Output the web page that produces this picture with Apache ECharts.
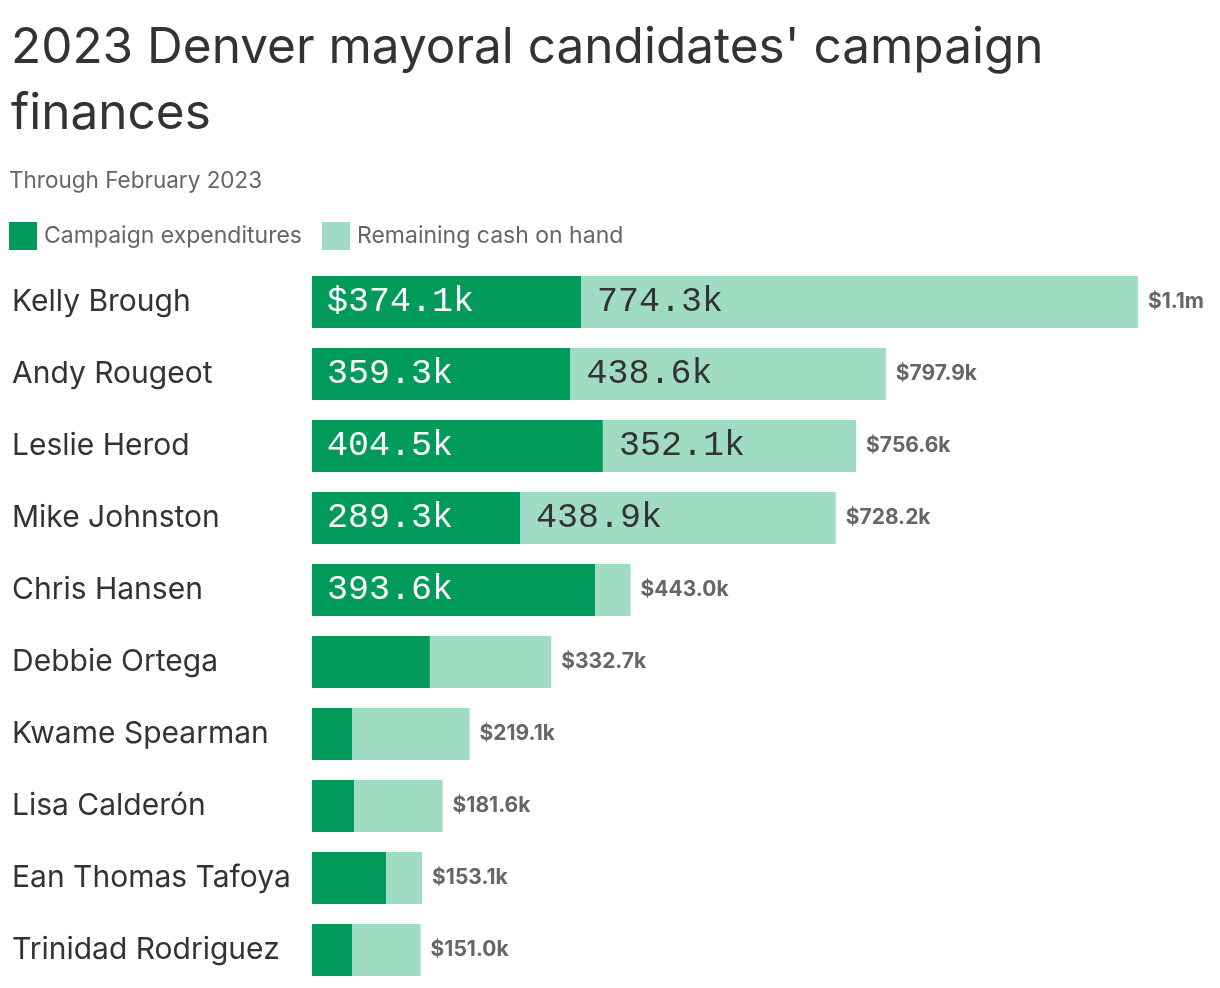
<!DOCTYPE html>
<html><head><meta charset="utf-8">
<script src="https://cdn.jsdelivr.net/npm/echarts@6/dist/echarts.min.js"></script>
<style>html,body{margin:0;padding:0;background:#fff}#c{width:1220px;height:988px}</style>
</head><body><div id="c"></div>
<script>
const candidates = ["Kelly Brough","Andy Rougeot","Leslie Herod","Mike Johnston","Chris Hansen","Debbie Ortega","Kwame Spearman","Lisa Calderón","Ean Thomas Tafoya","Trinidad Rodriguez"];
const expenditures = [374.1, 359.3, 404.5, 289.3, 393.6, 164.0, 55.6, 58.4, 102.9, 55.6];
const cashOnHand = [774.3, 438.6, 352.1, 438.9, 49.4, 168.7, 163.5, 123.2, 50.2, 95.4];
const totalLabels = ["$1.1m","$797.9k","$756.6k","$728.2k","$443.0k","$332.7k","$219.1k","$181.6k","$153.1k","$151.0k"];

const DARK = '#009a5a', LIGHT = '#a0dcc4';
const MONO = '"Liberation Mono", "DejaVu Sans Mono", monospace';
const SANS = 'Inter, "Noto Sans", sans-serif';

const chart = echarts.init(document.getElementById('c'), null, {renderer:'canvas'});
chart.setOption({
  animation:false,
  title:[{
    text:"2023 Denver mayoral candidates' campaign\nfinances",
    left:6, top:10,
    textStyle:{fontFamily:SANS, fontSize:49.5, fontWeight:400, color:'#333', lineHeight:66}
  },{
    text:'Through February 2023', left:4, top:165,
    textStyle:{fontFamily:SANS, fontSize:22.5, fontWeight:400, color:'#666'}
  }],
  legend:{
    left:4, top:217, itemWidth:28, itemHeight:28, itemGap:20,
    icon:'rect',
    textStyle:{fontFamily:SANS, fontSize:23, color:'#666', padding:[0,0,0,2]},
    data:['Campaign expenditures','Remaining cash on hand']
  },
  grid:{left:312, right:45, top:266, bottom:2},
  xAxis:{type:'value', min:0, max:1200, show:false},
  yAxis:{type:'category', data:candidates, inverse:true,
    axisLine:{show:false}, axisTick:{show:false},
    axisLabel:{margin:300, align:'left', fontFamily:SANS, fontSize:30, color:'#333'}
  },
  series:[{
    name:'Campaign expenditures', type:'bar', stack:'t', barWidth:52,
    itemStyle:{color:DARK},
    data:expenditures.map((v,i)=>({value:v, label:{show:v>200}})),
    label:{position:'insideLeft', distance:15, fontFamily:MONO, fontSize:35, color:'#fff',
      formatter:p=>(p.dataIndex===0?'$':'')+p.value.toFixed(1)+'k'}
  },{
    name:'Remaining cash on hand', type:'bar', stack:'t', barWidth:52,
    itemStyle:{color:LIGHT},
    data:cashOnHand.map((v,i)=>({value:v, label:{show:v>200}})),
    label:{position:'insideLeft', distance:16, fontFamily:MONO, fontSize:35, color:'#333',
      formatter:p=>p.value.toFixed(1)+'k'}
  },{
    name:'total', type:'bar', stack:'t', barWidth:52,
    itemStyle:{color:'transparent'},
    data:cashOnHand.map(()=>0),
    label:{show:true, position:'right', distance:10, fontFamily:SANS, fontSize:21, fontWeight:'bold', color:'#666',
      formatter:p=>totalLabels[p.dataIndex]},
    tooltip:{show:false}
  }]
});
</script></body></html>
